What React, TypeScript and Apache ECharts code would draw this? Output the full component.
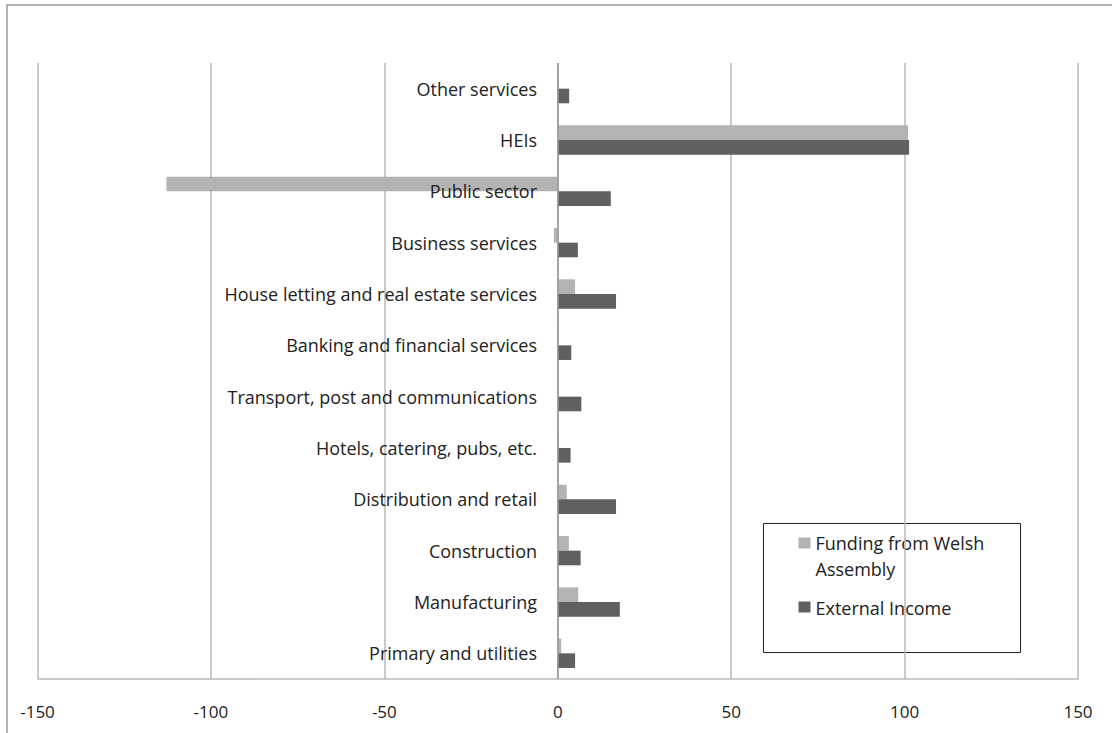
import React, { useEffect, useRef } from "react";
import * as echarts from "echarts";

const categories = [
  "Primary and utilities",
  "Manufacturing",
  "Construction",
  "Distribution and retail",
  "Hotels, catering, pubs, etc.",
  "Transport, post and communications",
  "Banking and financial services",
  "House letting and real estate services",
  "Business services",
  "Public sector",
  "HEIs",
  "Other services",
];

const welshAssemblyName = "Funding from Welsh Assembly";
const externalIncomeName = "External Income";

const welshAssembly = [1.0, 5.9, 3.2, 2.6, 0.3, 0, -0.2, 5.0, -1.1, -112.8, 101.0, 0.2];
const externalIncome = [5.0, 17.9, 6.6, 16.8, 3.7, 6.8, 3.9, 16.8, 5.8, 15.3, 101.3, 3.3];

const xTicks = { min: -150, max: 150, interval: 50 };

const LIGHT = "#b3b3b3";
const DARK = "#606060";
const FONT = "'Open Sans', 'Noto Sans', sans-serif";

export default function App() {
  const ref = useRef<HTMLDivElement>(null);

  useEffect(() => {
    document.body.style.margin = "0";
    if (!ref.current) return;
    const chart = echarts.init(ref.current, undefined, { renderer: "svg" });
    chart.setOption({
      animation: false,
      backgroundColor: "#ffffff",
      grid: {
        left: 37.5,
        right: 34,
        top: 63,
        bottom: 54,
        containLabel: false,
        outerBoundsMode: "none",
      },
      xAxis: {
        type: "value",
        min: xTicks.min,
        max: xTicks.max,
        interval: xTicks.interval,
        position: "bottom",
        axisLine: { show: true, lineStyle: { color: "#b8b8b8", width: 1.5 } },
        axisTick: { show: false },
        splitLine: { show: true, lineStyle: { color: "#b8b8b8", width: 1.5 } },
        axisLabel: { color: "#222", fontFamily: FONT, fontSize: 17, margin: 24 },
      },
      yAxis: {
        type: "category",
        data: categories,
        z: 20,
        axisLine: { show: false },
        axisTick: { show: false },
        axisLabel: {
          color: "#222",
          fontFamily: FONT,
          fontSize: 18,
          margin: -499.5,
          align: "right",
        },
        splitLine: { show: false },
      },
      series: [
        {
          name: welshAssemblyName,
          type: "bar",
          data: welshAssembly,
          itemStyle: { color: LIGHT },
          barGap: "0%",
          barCategoryGap: "43%",
        },
        {
          name: externalIncomeName,
          type: "bar",
          data: externalIncome,
          itemStyle: { color: DARK },
          barGap: "0%",
          barCategoryGap: "43%",
          markLine: {
            silent: true,
            symbol: "none",
            label: { show: false },
            lineStyle: { color: "#999999", width: 1.5, type: "solid" },
            data: [{ xAxis: 0 }],
          },
        },
      ],
      graphic: [
        {
          type: "rect",
          shape: { x: 7, y: 5, width: 1120, height: 740 },
          style: { fill: "none", stroke: "#9a9a9a", lineWidth: 1.5 },
          silent: true,
          z: 100,
        },
        {
          type: "group",
          left: 763,
          top: 523,
          z: 100,
          children: [
            {
              type: "rect",
              shape: { x: 0, y: 0, width: 257, height: 129 },
              style: { fill: "#ffffff", stroke: "#222222", lineWidth: 1 },
            },
            {
              type: "rect",
              shape: { x: 35, y: 14, width: 12, height: 11 },
              style: { fill: LIGHT },
            },
            {
              type: "text",
              x: 52,
              y: 6,
              style: {
                text: "Funding from Welsh\nAssembly",
                fill: "#222",
                fontFamily: FONT,
                fontSize: 18,
                lineHeight: 26,
              },
            },
            {
              type: "rect",
              shape: { x: 35, y: 78, width: 12, height: 11 },
              style: { fill: DARK },
            },
            {
              type: "text",
              x: 52,
              y: 71,
              style: {
                text: externalIncomeName,
                fill: "#222",
                fontFamily: FONT,
                fontSize: 18,
                lineHeight: 26,
              },
            },
          ],
        },
      ],
    });
    return () => chart.dispose();
  }, []);

  return (
    <div
      ref={ref}
      style={{ position: "absolute", left: 0, top: 0, width: 1112, height: 733 }}
    />
  );
}
